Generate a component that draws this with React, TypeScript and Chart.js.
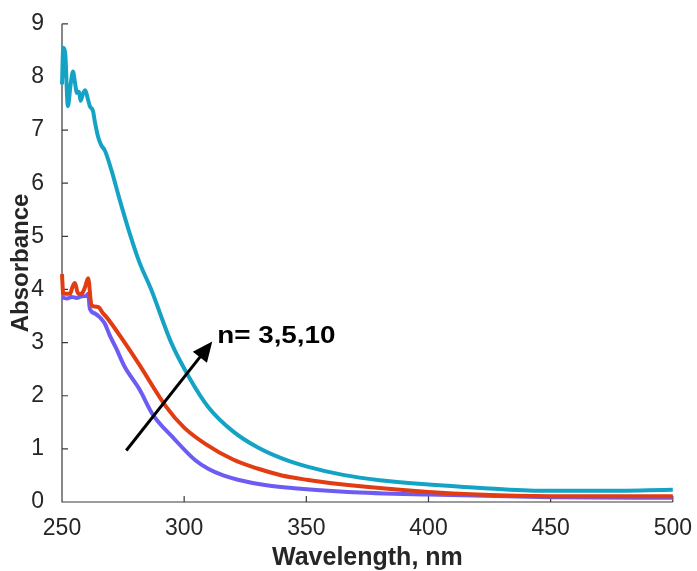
import React, { useEffect, useRef } from "react";
import { Chart, registerables } from "chart.js";

Chart.register(...registerables);

// n = 10 (teal)
const tealNm = [250, 250.5, 251.3, 252.4, 253.5, 254.5, 255.3, 256.1, 257.0, 257.6, 258.7, 259.5, 260.5, 261.4, 262.7, 263.4, 264.8, 266.1, 267.5, 270.2, 273.6, 277.6, 281.7, 286.5, 294.7, 302, 310, 320, 330, 340, 350, 365, 380, 400, 420, 447, 470, 500];
const tealAbs = [7.86, 8.55, 8.45, 7.45, 7.85, 8.1, 7.9, 7.7, 7.72, 7.55, 7.7, 7.75, 7.6, 7.45, 7.36, 7.17, 6.87, 6.71, 6.62, 6.25, 5.69, 5.07, 4.51, 4.0, 3.0, 2.35, 1.78, 1.33, 1.03, 0.82, 0.67, 0.51, 0.41, 0.33, 0.27, 0.21, 0.21, 0.23];

// n = 5 (red)
const redNm = [250, 250.5, 253.3, 254.3, 255.3, 256.6, 258.0, 259.4, 260.7, 262.1, 264.8, 266.8, 268.2, 270.2, 274.9, 281.7, 292.5, 300, 308.8, 320, 330, 340, 350, 367, 400, 420, 450, 500];
const redAbs = [4.29, 3.92, 3.92, 4.05, 4.12, 3.92, 3.92, 4.04, 4.21, 3.7, 3.67, 3.55, 3.48, 3.36, 3.05, 2.58, 1.8, 1.4, 1.09, 0.8, 0.63, 0.5, 0.42, 0.32, 0.19, 0.14, 0.11, 0.11];

// n = 3 (purple)
const purpleNm = [250, 252, 254, 256, 258, 260, 260.7, 261.4, 263.4, 265.4, 267.5, 269.5, 272.2, 275.6, 281.7, 287.1, 295.3, 304.7, 310, 316, 322, 333, 345, 367, 400, 450, 500];
const purpleAbs = [3.85, 3.83, 3.86, 3.84, 3.87, 3.88, 3.92, 3.64, 3.55, 3.48, 3.36, 3.14, 2.89, 2.55, 2.12, 1.65, 1.22, 0.78, 0.62, 0.5, 0.42, 0.32, 0.26, 0.19, 0.14, 0.09, 0.08];

const xTicks = [250, 300, 350, 400, 450, 500];
const yTicks = [0, 1, 2, 3, 4, 5, 6, 7, 8, 9];

const arrowFrom = [276.3, 0.97];
const arrowTo = [311.5, 3.02];
const labelText = "n= 3,5,10";
const labelAt = [313.5, 3.0];

const toPoints = (xs: number[], ys: number[]) => xs.map((x, i) => ({ x, y: ys[i] }));

const AXIS_COLOR = "#3a3a3a";
const TEXT_COLOR = "#262626";
const FONT = "Arial, 'Liberation Sans', sans-serif";

const overlay = {
  id: "overlay",
  beforeDatasetsDraw(chart: any) {
    const { ctx, chartArea, scales } = chart;
    const x = scales.x;
    const y = scales.y;
    ctx.save();
    ctx.strokeStyle = AXIS_COLOR;
    ctx.lineWidth = 1.2;
    ctx.beginPath();
    ctx.moveTo(chartArea.left, chartArea.top);
    ctx.lineTo(chartArea.left, chartArea.bottom);
    ctx.lineTo(chartArea.right, chartArea.bottom);
    for (const v of xTicks) {
      const px = x.getPixelForValue(v);
      ctx.moveTo(px, chartArea.bottom);
      ctx.lineTo(px, chartArea.bottom - 6);
    }
    for (const v of yTicks) {
      const py = y.getPixelForValue(v);
      ctx.moveTo(chartArea.left, py);
      ctx.lineTo(chartArea.left + 6, py);
    }
    ctx.stroke();
    ctx.restore();
  },
  afterDatasetsDraw(chart: any) {
    const { ctx, scales } = chart;
    const x = scales.x;
    const y = scales.y;
    const x0 = x.getPixelForValue(arrowFrom[0]);
    const y0 = y.getPixelForValue(arrowFrom[1]);
    const x1 = x.getPixelForValue(arrowTo[0]);
    const y1 = y.getPixelForValue(arrowTo[1]);
    const ang = Math.atan2(y1 - y0, x1 - x0);
    const headLen = 20;
    const headHalf = 9;
    ctx.save();
    ctx.strokeStyle = "#000";
    ctx.fillStyle = "#000";
    ctx.lineWidth = 3;
    const bx = x1 - headLen * Math.cos(ang);
    const by = y1 - headLen * Math.sin(ang);
    ctx.beginPath();
    ctx.moveTo(x0, y0);
    ctx.lineTo(bx + 2 * Math.cos(ang), by + 2 * Math.sin(ang));
    ctx.stroke();
    ctx.beginPath();
    ctx.moveTo(x1, y1);
    ctx.lineTo(bx + headHalf * Math.sin(ang), by - headHalf * Math.cos(ang));
    ctx.lineTo(bx - headHalf * Math.sin(ang), by + headHalf * Math.cos(ang));
    ctx.closePath();
    ctx.fill();
    const tx = x.getPixelForValue(labelAt[0]);
    const ty = y.getPixelForValue(labelAt[1]);
    ctx.translate(tx, ty);
    ctx.scale(1.16, 1);
    ctx.font = `bold 24px ${FONT}`;
    ctx.textAlign = "left";
    ctx.textBaseline = "alphabetic";
    ctx.fillText(labelText, 0, 0);
    ctx.restore();
  },
};

export default function App() {
  const ref = useRef<HTMLCanvasElement | null>(null);
  useEffect(() => {
    if (!ref.current) return;
    const common = { pointRadius: 0, borderWidth: 4, cubicInterpolationMode: "monotone" as const, clip: false as any };
    const chart = new Chart(ref.current, {
      type: "line",
      data: {
        datasets: [
          { label: "n=10", data: toPoints(tealNm, tealAbs), borderColor: "#15a3c5", ...common },
          { label: "n=5", data: toPoints(redNm, redAbs), borderColor: "#e23c12", ...common },
          { label: "n=3", data: toPoints(purpleNm, purpleAbs), borderColor: "#6c5cf4", ...common },
        ],
      },
      options: {
        responsive: false,
        animation: false,
        layout: { padding: { top: 19, right: 0, left: 0, bottom: 0 } },
        plugins: { legend: { display: false }, tooltip: { enabled: false } },
        scales: {
          x: {
            type: "linear",
            min: 250,
            max: 500,
            afterFit: (s: any) => { s.height = 69; },
            afterBuildTicks: (s: any) => { s.ticks = xTicks.map((v) => ({ value: v })); },
            grid: { display: false },
            border: { display: false },
            ticks: { color: TEXT_COLOR, padding: 5, font: { family: FONT, size: 23 }, maxRotation: 0 },
            title: { display: true, text: "Wavelength, nm", color: TEXT_COLOR, font: { family: FONT, size: 25, weight: "bold", lineHeight: 1 }, padding: { top: 2, bottom: 0 } },
          },
          y: {
            type: "linear",
            min: 0,
            max: 9,
            afterFit: (s: any) => { s.width = 62; },
            afterBuildTicks: (s: any) => { s.ticks = yTicks.map((v) => ({ value: v })); },
            grid: { display: false },
            border: { display: false },
            ticks: { color: TEXT_COLOR, padding: 10, font: { family: FONT, size: 23 } },
            title: { display: true, text: "Absorbance", color: TEXT_COLOR, font: { family: FONT, size: 24, weight: "bold" }, padding: { top: 7, bottom: 0 } },
          },
        },
      },
      plugins: [overlay],
    });
    return () => chart.destroy();
  }, []);
  return (
    <div style={{ position: "absolute", left: 0, top: 0, width: 697, height: 571, background: "#fff" }}>
      <canvas ref={ref} width={697} height={571} style={{ display: "block" }} />
    </div>
  );
}
